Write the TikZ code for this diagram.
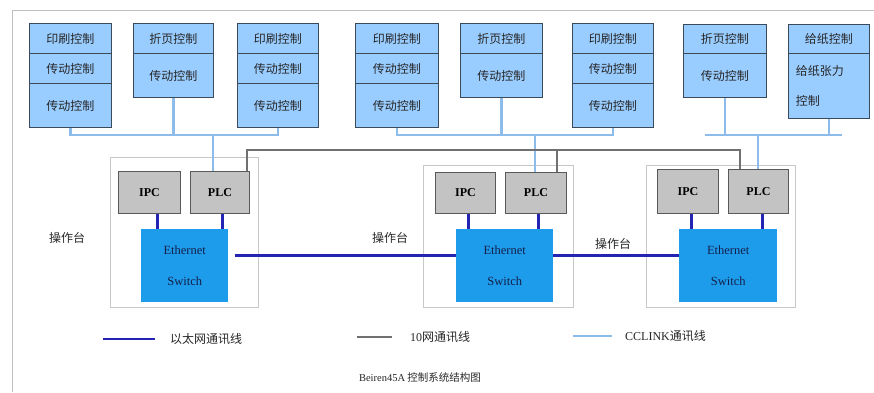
\documentclass[tikz,border=0pt]{standalone}
\usepackage{fontspec}
\setmainfont{Liberation Serif}
\newfontfamily\cjk{Noto Sans CJK SC}
\definecolor{cellblue}{HTML}{99CCFF}
\definecolor{cellborder}{HTML}{3A4A5A}
\definecolor{ccblue}{HTML}{8DBBEA}
\definecolor{ethblue}{HTML}{2424B4}
\definecolor{swblue}{HTML}{1E9CEC}
\definecolor{navy}{HTML}{14204A}
\definecolor{devgray}{HTML}{C3C3C3}
\definecolor{framegray}{HTML}{C8C8C8}
\definecolor{tengray}{HTML}{707070}
\begin{document}
\begin{tikzpicture}[x=1pt,y=-1pt,
  cell/.style={draw=cellborder, fill=cellblue, line width=0.9pt, inner sep=0pt, anchor=north west,
    font=\cjk\fontsize{12}{14}\selectfont, text=black!85},
  stframe/.style={draw=framegray, line width=0.7pt, inner sep=0pt, anchor=north west},
  dev/.style={draw=black!65, fill=devgray, line width=0.9pt, inner sep=0pt, anchor=north west,
    font=\bfseries\fontsize{12}{14}\selectfont},
  sw/.style={fill=swblue, inner sep=0pt, anchor=north west, align=center, text=navy,
    font=\fontsize{12.5}{31}\selectfont},
  cc/.style={draw=ccblue, line width=2.8pt},
  eth/.style={draw=ethblue, line width=2.6pt},
  ten/.style={draw=tengray, line width=1.1pt},
  lab/.style={font=\cjk\fontsize{12}{14}\selectfont, text=black!85, inner sep=0pt},
  pageframe/.style={draw=black!25, line width=0.8pt}]
\useasboundingbox (0,0) rectangle (874,392);
\draw[pageframe] (12,392) -- (12,10) -- (874,10);

% ---- top control boxes ----
% group A
\node[cell, minimum width=82pt, minimum height=30pt] (a11) at (29,23) {印刷控制};
\node[cell, minimum width=82pt, minimum height=30pt] (a12) at (29,53) {传动控制};
\node[cell, minimum width=82pt, minimum height=44pt] (a13) at (29,83) {传动控制};
\node[cell, minimum width=80pt, minimum height=30pt] (a21) at (133,23) {折页控制};
\node[cell, minimum width=80pt, minimum height=44pt] (a22) at (133,53) {传动控制};
\node[cell, minimum width=81pt, minimum height=30pt] (a31) at (237,23) {印刷控制};
\node[cell, minimum width=81pt, minimum height=30pt] (a32) at (237,53) {传动控制};
\node[cell, minimum width=81pt, minimum height=44pt] (a33) at (237,83) {传动控制};
% group B
\node[cell, minimum width=83pt, minimum height=30pt] (b11) at (355,23) {印刷控制};
\node[cell, minimum width=83pt, minimum height=30pt] (b12) at (355,53) {传动控制};
\node[cell, minimum width=83pt, minimum height=44pt] (b13) at (355,83) {传动控制};
\node[cell, minimum width=82pt, minimum height=30pt] (b21) at (460,23) {折页控制};
\node[cell, minimum width=82pt, minimum height=44pt] (b22) at (460,53) {传动控制};
\node[cell, minimum width=81pt, minimum height=30pt] (b31) at (572,23) {印刷控制};
\node[cell, minimum width=81pt, minimum height=30pt] (b32) at (572,53) {传动控制};
\node[cell, minimum width=81pt, minimum height=44pt] (b33) at (572,83) {传动控制};
% group C
\node[cell, minimum width=83pt, minimum height=29pt] (c11) at (683,24) {折页控制};
\node[cell, minimum width=83pt, minimum height=44pt] (c12) at (683,53) {传动控制};
\node[cell, minimum width=81pt, minimum height=29pt] (c21) at (788,24) {给纸控制};
\node[cell, minimum width=81pt, minimum height=65pt, align=left, text width=66pt,
  font=\cjk\fontsize{12}{30}\selectfont] (c22) at (788,53) {给纸张力\\控制};

% ---- station frames ----
\node[stframe, minimum width=148pt, minimum height=150pt] (st1) at (110,157) {};
\node[stframe, minimum width=150pt, minimum height=142pt] (st2) at (423,165) {};
\node[stframe, minimum width=149pt, minimum height=142pt] (st3) at (646,165) {};

% ---- devices ----
\node[dev, minimum width=62pt, minimum height=42pt] (ipc1) at (118,171) {IPC};
\node[dev, minimum width=59pt, minimum height=42pt] (plc1) at (190,171) {PLC};
\node[dev, minimum width=60pt, minimum height=41pt] (ipc2) at (435,172) {IPC};
\node[dev, minimum width=61pt, minimum height=41pt] (plc2) at (505,172) {PLC};
\node[dev, minimum width=61pt, minimum height=44pt] (ipc3) at (657,169) {IPC};
\node[dev, minimum width=60pt, minimum height=44pt] (plc3) at (728,169) {PLC};

\node[sw, minimum width=87pt, minimum height=73pt] (sw1) at (141,229) {Ethernet\\Switch};
\node[sw, minimum width=97pt, minimum height=73pt] (sw2) at (456,229) {Ethernet\\Switch};
\node[sw, minimum width=98pt, minimum height=73pt] (sw3) at (679,229) {Ethernet\\Switch};

% ---- labels ----
\node[lab] (op1) at (67,238) {操作台};
\node[lab] (op2) at (390,238) {操作台};
\node[lab] (op3) at (613,244) {操作台};

% ---- CC-Link buses ----
\coordinate (busA) at (213,135);
\coordinate (busB) at (535,135);
\coordinate (busC) at (758,135);
\coordinate (busCl) at (705,135);
\coordinate (busCr) at (842,135);
\draw[cc] (a13.south) -- (a13.south |- busA) -- (a33.south |- busA) -- (a33.south);
\draw[cc] (a22.south) -- (a22.south |- busA);
\draw[cc] (busA) -- (busA |- plc1.north);
\draw[cc] (b13.south) -- (b13.south |- busB) -- (b33.south |- busB) -- (b33.south);
\draw[cc] (b22.south) -- (b22.south |- busB);
\draw[cc] (busB) -- (busB |- plc2.north);
\draw[cc] (busCl) -- (busCr);
\draw[cc] (c12.south) -- (c12.south |- busC);
\draw[cc] (c22.south) -- (c22.south |- busC);
\draw[cc] (busC) -- (busC |- plc3.north);

% ---- 10 net line ----
\coordinate (g1) at (247,150);
\coordinate (g2) at (557,150);
\coordinate (g3) at (740,150);
\draw[ten] (g1 |- plc1.north) -- (g1) -- (g3) -- (g3 |- plc3.north);
\draw[ten] (g2) -- (g2 |- plc2.north);

% ---- Ethernet links ----
\draw[eth] ([xshift=8pt]ipc1.south) -- ([xshift=8pt]ipc1.south |- sw1.north);
\draw[eth] ([xshift=2.5pt]plc1.south) -- ([xshift=2.5pt]plc1.south |- sw1.north);
\draw[eth] ([xshift=3pt]ipc2.south) -- ([xshift=3pt]ipc2.south |- sw2.north);
\draw[eth] ([xshift=2.5pt]plc2.south) -- ([xshift=2.5pt]plc2.south |- sw2.north);
\draw[eth] ([xshift=3.5pt]ipc3.south) -- ([xshift=3.5pt]ipc3.south |- sw3.north);
\draw[eth] ([xshift=4pt]plc3.south) -- ([xshift=4pt]plc3.south |- sw3.north);
\draw[eth] ([yshift=10.5pt,xshift=7pt]sw1.east) -- ([yshift=10.5pt]sw2.west);
\draw[eth] ([yshift=10.5pt]sw2.east) -- ([yshift=10.5pt]sw3.west);

% ---- legend ----
\coordinate (le1a) at (103,339); \coordinate (le1b) at (155,339);
\coordinate (le2a) at (357,337); \coordinate (le2b) at (392,337);
\coordinate (le3a) at (573,336); \coordinate (le3b) at (612,336);
\draw[eth] (le1a) -- (le1b);
\draw[draw=tengray, line width=1.2pt] (le2a) -- (le2b);
\draw[cc] (le3a) -- (le3b);
\node[lab, anchor=west] (lt1) at (170,339) {以太网通讯线};
\node[lab, anchor=west] (lt2) at (410,337) {{\rmfamily 10}网通讯线};
\node[lab, anchor=west] (lt3) at (625,336) {{\rmfamily CCLINK}通讯线};

\node[lab, font=\cjk\fontsize{10.5}{12}\selectfont] (cap) at (420,377) {{\rmfamily Beiren45A} 控制系统结构图};
\end{tikzpicture}
\end{document}
